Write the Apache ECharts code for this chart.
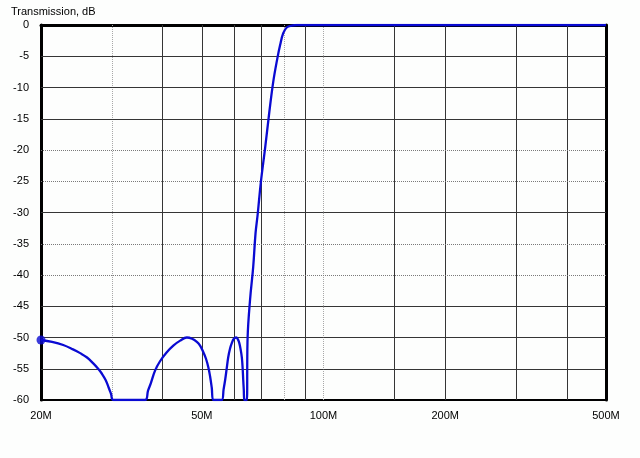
<!DOCTYPE html>
<html>
<head>
<meta charset="utf-8">
<script src="https://cdn.jsdelivr.net/npm/echarts@6/dist/echarts.min.js"></script>
<style>
html,body{margin:0;padding:0;background:#fdfefd;}
#chart{width:640px;height:458px;}
</style>
</head>
<body>
<div id="chart"></div>
<script>
// Frequency in MHz, transmission in dB
var freqMHz = [20, 21.3, 22.7, 24.0, 25.0, 26.0, 26.9, 27.7, 28.3, 28.9, 29.4, 29.8, 30.2,
  36.2, 36.8, 37.4, 38.3, 39.4, 40.9, 42.5, 44.2, 45.9, 47.3, 48.6, 49.5, 50.4, 51.2, 51.9, 52.4, 52.9, 53.4,
  56.0, 56.6, 57.1, 57.6, 58.1, 58.7, 59.3, 60.0, 60.8, 61.4, 61.9, 62.4, 62.8, 63.1, 63.3, 63.5, 63.7,
  64.6, 64.9, 65.8, 67.0, 67.9, 68.7, 70.0, 71.7, 73.3, 75.1, 76.9, 78.1, 79.5, 81.1, 83.4, 86, 500];
var transmissionDb = [-50.4, -50.7, -51.2, -51.9, -52.5, -53.2, -54.1, -55.0, -55.8, -56.8, -58.0, -59.0, -60,
  -60, -58.5, -57.3, -55.3, -53.8, -52.4, -51.3, -50.5, -50.0, -50.2, -50.7, -51.3, -52.3, -53.4, -54.8, -56.2, -58.0, -60,
  -60, -58.3, -56.8, -55.0, -53.2, -51.8, -50.9, -50.2, -50.0, -50.3, -50.9, -52.0, -53.2, -55.0, -56.8, -58.4, -60,
  -60, -50.0, -44.0, -38.7, -33.3, -30.4, -25.1, -19.7, -14.4, -9.1, -5.3, -3.2, -1.3, -0.4, -0.1, 0, 0];
var xTickLabels = [20, 50, 100, 200, 500];
var xGridSolid = [40, 50, 60, 70, 90, 150, 200, 300, 400];
var xGridDotted = [30, 80, 100];
var yTicks = [-55, -50, -45, -40, -35, -30, -25, -20, -15, -10, -5];
var yGridDotted = [-20, -25, -35, -40];

var FONT = '"Liberation Sans", Arial, sans-serif';
var seriesData = freqMHz.map(function (f, i) { return [f, transmissionDb[i]]; });

var gridLines = [];
xGridSolid.forEach(function (v) {
  gridLines.push({ xAxis: v, lineStyle: { color: '#353535', width: 1, type: 'solid' } });
});
xGridDotted.forEach(function (v) {
  gridLines.push({ xAxis: v, lineStyle: { color: '#a8a8a8', width: 1, type: [1, 1] } });
});
yTicks.forEach(function (v) {
  var dotted = yGridDotted.indexOf(v) >= 0;
  gridLines.push({ yAxis: v, lineStyle: dotted ? { color: '#7a7a7a', width: 1, type: [1, 1] } : { color: '#353535', width: 1, type: 'solid' } });
});

var chart = echarts.init(document.getElementById('chart'), null, { renderer: 'canvas' });
chart.setOption({
  backgroundColor: '#fdfefd',
  animation: false,
  textStyle: { fontFamily: FONT },
  title: {
    text: 'Transmission, dB',
    left: 6, top: 1,
    textStyle: { fontSize: 11, fontWeight: 'normal', color: '#000', fontFamily: FONT }
  },
  grid: {
    left: 41, right: 34, top: 25, bottom: 58,
    show: true, borderColor: '#000', borderWidth: 2, backgroundColor: 'transparent'
  },
  xAxis: {
    type: 'log', logBase: 10, min: 20, max: 500,
    axisLine: { show: true, lineStyle: { color: '#000', width: 3 } },
    axisTick: { show: false },
    splitLine: { show: false },
    minorSplitLine: { show: false },
    axisLabel: {
      customValues: xTickLabels,
      formatter: function (v) { return Math.round(v) + 'M'; },
      margin: 10, fontSize: 11, color: '#000', fontFamily: FONT
    }
  },
  yAxis: [{
    type: 'value', min: -60, max: 0, interval: 5,
    axisLine: { show: true, onZero: false, lineStyle: { color: '#000', width: 3 } },
    axisTick: { show: false },
    splitLine: { show: false },
    axisLabel: { margin: 12, fontSize: 11, color: '#000', fontFamily: FONT }
  }, {
    type: 'value', min: -60, max: 0, interval: 5, position: 'right',
    axisLine: { show: true, onZero: false, lineStyle: { color: '#000', width: 3 } },
    axisTick: { show: false },
    splitLine: { show: false },
    axisLabel: { show: false }
  }],
  series: [{
    type: 'line',
    data: [],
    z: 1,
    silent: true,
    markLine: {
      silent: true,
      symbol: ['none', 'none'],
      label: { show: false },
      animation: false,
      data: gridLines
    }
  }, {
    type: 'line',
    data: seriesData,
    z: 5,
    smooth: 0.4,
    symbol: 'none',
    lineStyle: { color: '#0a0ad2', width: 2.3 },
    silent: true
  }, {
    type: 'scatter',
    data: [seriesData[0]],
    z: 6,
    symbol: 'circle',
    symbolSize: 9,
    itemStyle: { color: '#0a0ad2' },
    silent: true
  }]
});
</script>
</body>
</html>
